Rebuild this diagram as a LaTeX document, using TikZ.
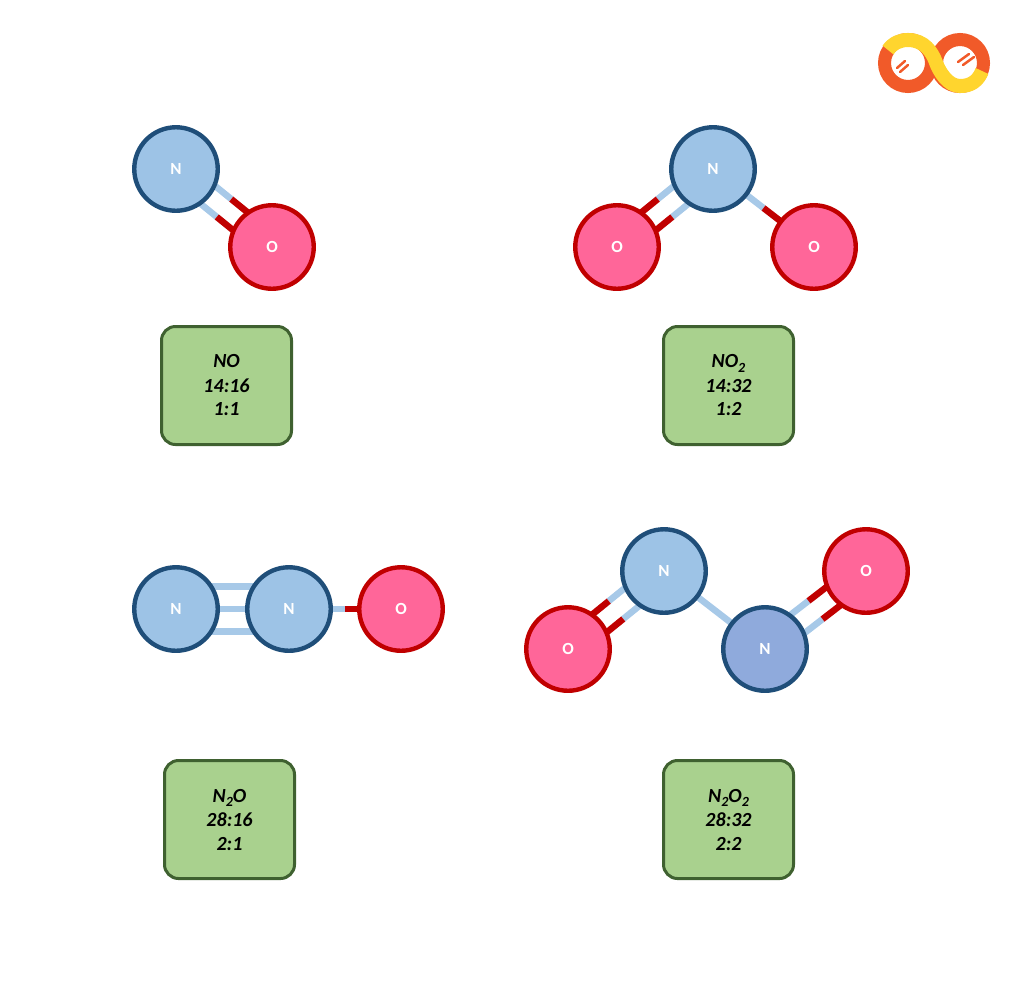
\documentclass[tikz,border=0pt]{standalone}
\usepackage{fontspec}
\setmainfont{Carlito}
\usepackage{tikz}
\usetikzlibrary{
  calc,
  backgrounds
}
\definecolor{nfill}{HTML}{9DC3E6}
\definecolor{nfillb}{HTML}{8FAADC}
\definecolor{nline}{HTML}{1F4E79}
\definecolor{ofill}{HTML}{FF6699}
\definecolor{oline}{HTML}{C00000}
\definecolor{boxfill}{HTML}{A9D18E}
\definecolor{boxline}{HTML}{3F6130}
\definecolor{logoorange}{HTML}{F15A29}
\definecolor{logoyellow}{HTML}{FFD52E}
% half blue, half red bond, shifted sideways by #3
\newcommand{\nobond}[3]{
  \coordinate (p1) at ($(#1)!#3!90:(#2)$);
  \coordinate (p2) at ($(#2)!#3!-90:(#1)$);
  \draw[nbond] (p1) -- ($(p1)!.5!(p2)$);
  \draw[obond] ($(p1)!.5!(p2)$) -- (p2);
}
\newcommand{\nnbond}[3]{
  \draw[nbond] ($(#1)!#3!90:(#2)$) -- ($(#2)!#3!-90:(#1)$);
}
\newcommand{\lowtwo}{\raisebox{-.45ex}{\fontsize{14}{14}\selectfont 2}}
\begin{document}
\begin{tikzpicture}[
      x=1pt,y=-1pt,
      atom/.style={
         circle,
         minimum size=83.5pt,
         inner sep=0pt,
         line width=4.4pt,
         text=white,
         font=\bfseries\fontsize{17}{17}\selectfont
      },
      natom/.style={atom,draw=nline,fill=nfill},
      natomb/.style={atom,draw=nline,fill=nfillb},
      oatom/.style={atom,draw=oline,fill=ofill},
      nbond/.style={line width=6.5pt,draw=nfill!90!white},
      obond/.style={line width=6.5pt,draw=oline},
      ratio/.style={
         draw=boxline,
         fill=boxfill,
         line width=3pt,
         rounded corners=14pt,
         minimum width=130pt,
         minimum height=118pt,
         inner sep=0pt,
         align=center,
         font=\bfseries\itshape\fontsize{20}{24}\selectfont
      }
    ]
    \useasboundingbox (0,0) rectangle (1024,994);

    % NO
    \node (n1) [natom] at (176,169) {N};
    \node (o1) [oatom] at (272,247) {O};
    \node (box1) [ratio] at (226.5,385.5) {NO\\14:16\\1:1};

    % NO2
    \node (n2) [natom] at (713,169) {N};
    \node (o2) [oatom] at (617,247) {O};
    \node (o3) [oatom] at (814,247) {O};
    \node (box2) [ratio] at (728.5,385.5) {NO\lowtwo\\14:32\\1:2};

    % N2O
    \node (n3) [natom] at (176,609) {N};
    \node (n4) [natom] at (289,609) {N};
    \node (o4) [oatom] at (401,609) {O};
    \node (box3) [ratio] at (229.5,819.5) {N\lowtwo O\\28:16\\2:1};

    % N2O2
    \node (o5) [oatom] at (568,649) {O};
    \node (n5) [natom] at (664,571) {N};
    \node (n6) [natomb] at (765,649) {N};
    \node (o6) [oatom] at (866,571) {O};
    \node (box4) [ratio] at (728.5,819.5) {N\lowtwo O\lowtwo\\28:32\\2:2};

    \begin{scope}[on background layer]
      \foreach \off in {-11.5pt,11.5pt} {
        \nobond{n1}{o1}{\off}
        \nobond{n2}{o2}{\off}
        \nobond{n5}{o5}{\off}
        \nobond{n6}{o6}{\off}
      }
      \nobond{n2}{o3}{0pt}
      \nobond{n4}{o4}{0pt}
      \foreach \off in {-22.5pt,0pt,22.5pt} {
        \nnbond{n3}{n4}{\off}
      }
      \nnbond{n5}{n6}{0pt}
    \end{scope}

    % logo
    \draw[logoorange,line width=13pt] (908,63) circle (23.5);
    \draw[logoorange,line width=13pt] (960,63) circle (23.5);
    \draw[logoyellow,line width=14pt]
      (888,50) .. controls (893,43) and (900,40) .. (908,40)
      .. controls (925,40) and (932,53) .. (935,60)
      .. controls (939,72) and (948,86) .. (960,86)
      .. controls (971,86) and (978,81) .. (982,71);
    \foreach \a/\b in {897/68,900/72} {
      \draw[logoorange,line width=2.5pt,line cap=round] (\a,\b) -- ++(8,-7);
    }
    \foreach \a/\b in {958/62,963/65} {
      \draw[logoorange,line width=2.5pt,line cap=round] (\a,\b) -- ++(11,-8);
    }
\end{tikzpicture}
\end{document}
